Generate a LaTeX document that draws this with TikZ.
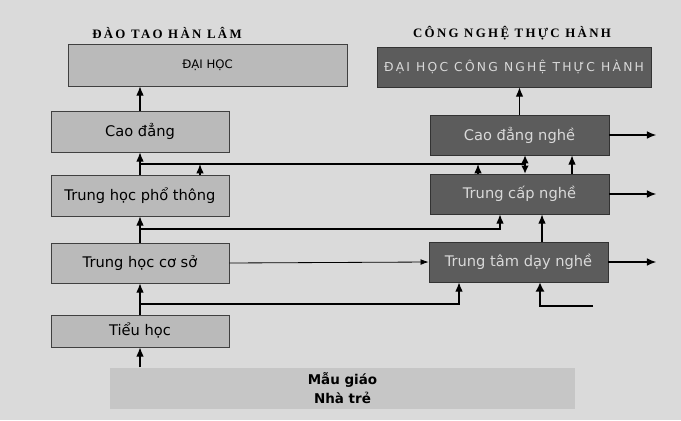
\documentclass[tikz,border=0pt]{standalone}
\usepackage{fontspec}
\usepackage{xcolor}
\usetikzlibrary{arrows.meta,calc,positioning}
\setmainfont{DejaVu Sans}
\newfontfamily\titlefont[LetterSpace=18]{Liberation Serif}
\newfontfamily\spacedfont[LetterSpace=18]{DejaVu Sans}
\definecolor{PaperGray}{RGB}{218,218,218}
\definecolor{LightBox}{RGB}{186,186,186}
\definecolor{DarkBox}{RGB}{92,92,92}
\definecolor{BaseBox}{RGB}{198,198,198}

\begin{document}
\begin{tikzpicture}[x=0.03cm, y=-0.03cm,
	lbox/.style={draw=black!75, line width=0.5pt, fill=LightBox, minimum width=178*0.03cm, inner sep=0pt, font=\fontsize{12.5}{14}\selectfont},
	rbox/.style={draw=black!80, line width=0.5pt, fill=DarkBox, text=black!15, minimum width=179*0.03cm, minimum height=40*0.03cm, inner sep=0pt, font=\fontsize{12.5}{14}\selectfont},
	ttl/.style={font=\titlefont\bfseries\fontsize{11}{12}\selectfont},
	arr/.style={line width=1.1pt, -{Latex[length=8pt,width=6.5pt]}},
	dblarr/.style={line width=1.1pt, {Latex[length=7pt,width=6.5pt]}-{Latex[length=7pt,width=6.5pt]}},
	thinarr/.style={line width=0.7pt, -{Latex[length=7pt,width=5pt]}},
	heavyarr/.style={line width=2pt, -{Latex[length=8pt,width=8pt]}},
	ln/.style={line width=1.1pt}
	]
		\fill[PaperGray] (0,0) rectangle (681,420);
		\useasboundingbox (0,0) rectangle (681,420);
		\node[ttl] (t1) at (167,33) {ĐÀO TAO HÀN LÂM};
		\node[ttl] (t2) at (512,33) {CÔNG NGHỆ THỰC HÀNH};
		\node[lbox, minimum width=279*0.03cm, minimum height=42*0.03cm, font=\fontsize{10}{12}\selectfont] (dh) at (207.5,65) {ĐẠI HỌC};
		\node[rbox, minimum width=274*0.03cm, font=\spacedfont\fontsize{10.5}{12}\selectfont] (dhcn) at (514,67) {ĐẠI HỌC CÔNG NGHỆ THỰC HÀNH};
		\node[lbox, minimum height=41*0.03cm] (cd) at (140,131.5) {Cao đẳng};
		\node[lbox, minimum height=41*0.03cm] (thpt) at (140,195.5) {Trung học phổ thông};
		\node[lbox, minimum height=40*0.03cm] (thcs) at (140,263) {Trung học cơ sở};
		\node[lbox, minimum height=32*0.03cm] (th) at (140,331) {Tiểu học};
		\node[fill=BaseBox, minimum width=465*0.03cm, minimum height=41*0.03cm, inner sep=0pt, align=center, font=\bfseries\fontsize{11.5}{16.5}\selectfont] (mg) at (342.5,388) {Mẫu giáo\\Nhà trẻ};
		\node[rbox] (cdn) at (519.5,135) {Cao đẳng nghề};
		\node[rbox] (tcn) at (519.5,194) {Trung cấp nghề};
		\node[rbox] (ttdn) at (518.5,262) {Trung tâm dạy nghề};
		\coordinate (l1s) at (140,164);
		\coordinate (l1a) at (200,164);
		\coordinate (l1b) at (478,164);
		\coordinate (l1e) at (525,164);
		\coordinate (c572) at (572,164);
		\coordinate (l2s) at (140,229);
		\coordinate (l2e) at (500,229);
		\coordinate (c542) at (542,229);
		\coordinate (l4s) at (140,304);
		\coordinate (l4e) at (459,304);
		\coordinate (l5s) at (593,306);
		\coordinate (l5e) at (540,306);
		\draw[arr] (cd.north) -- (cd.north |- dh.south);
		\draw[arr] (thpt.north) -- (cd.south);
		\draw[arr] (thcs.north) -- (thpt.south);
		\draw[arr] (th.north) -- (thcs.south);
		\draw[arr] (mg.north -| th.north) -- (th.south);
		\draw[arr] (cdn.north) -- (cdn.north |- dhcn.south);
		\draw[ln] (l1s) -- (l1e);
		\draw[arr] (l1a |- thpt.north) -- (l1a);
		\draw[arr] (l1b |- tcn.north) -- (l1b);
		\draw[dblarr] (l1e |- cdn.south) -- (l1e |- tcn.north);
		\draw[arr] (c572 |- tcn.north) -- (c572 |- cdn.south);
		\draw[arr] (l2s) -- (l2e) -- (l2e |- tcn.south);
		\draw[arr] (c542 |- ttdn.north) -- (c542 |- tcn.south);
		\draw[thinarr] (thcs.east) -- (ttdn.west);
		\draw[arr] (l4s) -- (l4e) -- (l4e |- ttdn.south);
		\draw[heavyarr] (l5s) -- (l5e) -- (l5e |- ttdn.south);
		\draw[arr] (cdn.east) -- ++(47,0);
		\draw[arr] (tcn.east) -- ++(47,0);
		\draw[arr] (ttdn.east) -- ++(48,0);
	\end{tikzpicture}
\end{document}
